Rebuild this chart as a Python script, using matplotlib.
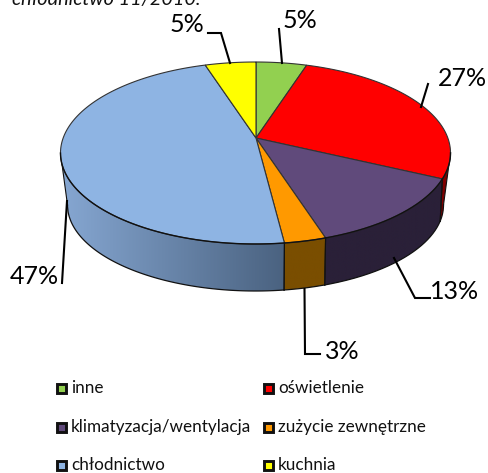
import numpy as np
import matplotlib
matplotlib.use("Agg")
import matplotlib.pyplot as plt
from matplotlib.patches import Polygon, Rectangle

categories = ["inne", "oświetlenie", "klimatyzacja/wentylacja",
              "zużycie zewnętrzne", "chłodnictwo", "kuchnia"]
values = [5, 27, 13, 3, 47, 5]
top_colors = ["#92D050", "#FF0000", "#604A7B", "#FF9900", "#8EB4E3", "#FFFF00"]
side_left = ["#5f8a35", "#800000", "#2A2038", "#7A4E00", "#86A7D2", "#808000"]
side_right = ["#5f8a35", "#800000", "#2A2038", "#7A4E00", "#4A6280", "#808000"]

W, H = 488, 473
cx, cy, a, b = 255.5, 153.0, 195.0, 91.0
apex = (256.0, 138.0)
cy2, a2, b2 = 205.0, 188.0, 86.0
plt.rcParams["font.family"] = ["Lato", "DejaVu Sans"]

fig = plt.figure(figsize=(W / 100, H / 100), dpi=100)
ax = fig.add_axes([0, 0, 1, 1])
ax.axis("off")


def rim(theta):
    """Point of the rim seen from the apex along a pie angle (clockwise from top)."""
    dx, dy = a * np.sin(theta), -b * np.cos(theta)
    ox, oy = apex[0] - cx, apex[1] - cy
    A = (dx / a) ** 2 + (dy / b) ** 2
    B = 2 * (ox * dx / a ** 2 + oy * dy / b ** 2)
    C = (ox / a) ** 2 + (oy / b) ** 2 - 1
    s = (-B + np.sqrt(B * B - 4 * A * C)) / (2 * A)
    return apex[0] + s * dx, apex[1] + s * dy


def lower(x):
    """Point on the lower outline of the wall, below a rim x."""
    u = np.clip((x - cx) * 0.988, -a2, a2)
    return cx + u, cy2 + b2 * np.sqrt(np.maximum(1 - (u / a2) ** 2, 0))


edges = np.cumsum([0] + values) / sum(values) * 2 * np.pi
EDGE = "#111111"

# side walls
for i in range(len(values)):
    t = np.linspace(edges[i], edges[i + 1], 240)
    x, y = rim(t)
    vis = y >= cy - 0.5
    if not vis.any():
        continue
    x, y = x[vis], y[vis]
    xb, yb = lower(x)
    xmin, xmax = min(x.min(), xb.min()), max(x.max(), xb.max())
    c1 = np.array(matplotlib.colors.to_rgb(side_left[i]))
    c2 = np.array(matplotlib.colors.to_rgb(side_right[i]))
    grad = np.linspace(0, 1, 256)[None, :, None] * (c2 - c1) + c1
    pts = list(zip(x, y)) + list(zip(xb[::-1], yb[::-1]))
    poly = Polygon(pts, closed=True, fc="none", ec="none", transform=ax.transData)
    ax.add_patch(poly)
    im = ax.imshow(grad, extent=(xmin, xmax, yb.max() + 1, y.min() - 1), aspect="auto", zorder=2)
    im.set_clip_path(poly)
    ax.plot(xb, yb, color=EDGE, lw=0.9, zorder=3)
    ax.plot([x[0], xb[0]], [y[0], yb[0]], color=EDGE, lw=0.8, zorder=3)
    ax.plot([x[-1], xb[-1]], [y[-1], yb[-1]], color=EDGE, lw=0.8, zorder=3)

ax.set_xlim(0, W)
ax.set_ylim(H, 0)

# top faces
for i in range(len(values)):
    t = np.linspace(edges[i], edges[i + 1], 240)
    x, y = rim(t)
    pts = [apex] + list(zip(x, y))
    ax.add_patch(Polygon(pts, closed=True, fc=top_colors[i], ec="#333333", lw=0.8, zorder=4))
    low = y >= cy - 0.5
    if low.any():
        ax.plot(x[low], y[low], color=EDGE, lw=1.0, zorder=4.5)

# leader lines
leaders = [
    [(279, 29), (282, 63)],
    [(428, 84), (421, 107)],
    [(394, 258), (415, 298), (430, 298)],
    [(304.5, 289), (305, 354), (320, 354)],
    [(67, 201), (62, 283)],
    [(208, 33), (221, 33), (230, 63)],
]
for pts in leaders:
    xs, ys = zip(*pts)
    ax.plot(xs, ys, color="black", lw=1.5, zorder=5, solid_joinstyle="miter")

# percentage labels
label_pos = [(300, 21), (462, 78), (455, 291), (342, 351), (34, 276), (187, 25)]
for v, (x, y) in zip(values, label_pos):
    ax.text(x, y, f"{v}%", fontsize=18, ha="center", va="center", color="black", zorder=6)

# legend
legend_pos = [(55, 388), (262, 388), (55, 427), (262, 427), (55, 465), (262, 465)]
for name, col, (x, y) in zip(categories, top_colors, legend_pos):
    ax.add_patch(Rectangle((x + 1.5, y - 4.5), 9.5, 9.5, fc=col, ec="#111111", lw=2.1, zorder=6))
    ax.text(x + 16, y, name, fontsize=12.3, ha="left", va="center", color="#111111", zorder=6)

# clipped chart title
ax.text(12, 5, "chłodnictwo 11/2010.", fontsize=14.3, style="italic",
        ha="left", va="baseline", color="#111111", zorder=6)

fig.savefig("out.png", dpi=100)
